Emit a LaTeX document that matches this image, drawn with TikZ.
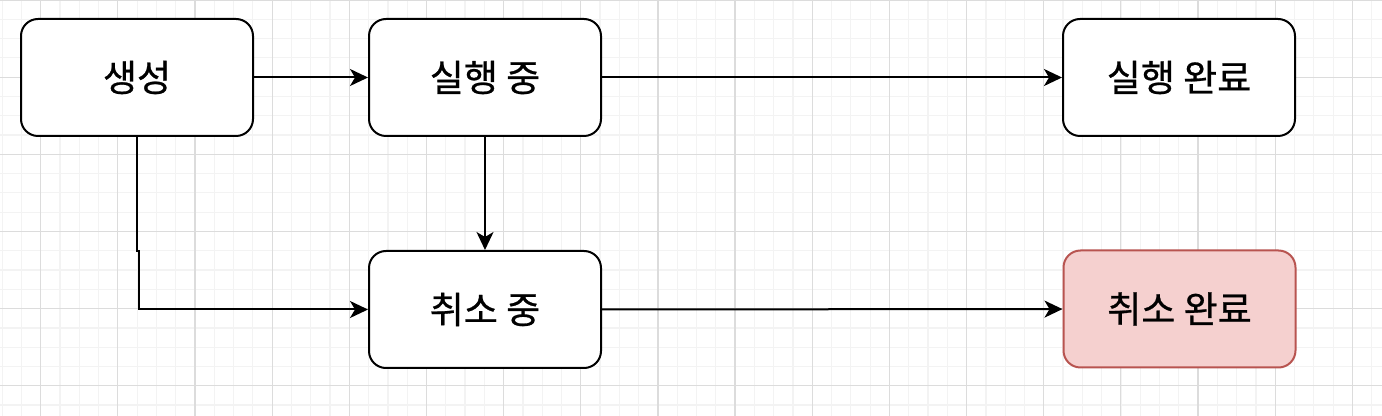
\documentclass[tikz,border=0pt]{standalone}
\usepackage{fontspec}
\setmainfont{Noto Sans CJK KR}
\newfontfamily\labelfont[FakeBold=0.7]{Noto Sans CJK KR}
\usetikzlibrary{arrows.meta}
\definecolor{gridminor}{HTML}{F3F3F3}
\definecolor{gridmajor}{HTML}{DCDCDC}
\definecolor{redfill}{HTML}{F5D0CF}
\definecolor{redline}{HTML}{B85450}
\tikzset{
  box/.style={draw=black, line width=1pt, rounded corners=8.5pt, fill=white,
    minimum width=116pt, minimum height=58.5pt, inner sep=0pt,
    font=\labelfont\fontsize{18.5pt}{22pt}\selectfont},
  redbox/.style={box, draw=redline, fill=redfill},
  conn/.style={draw=black, line width=1pt, -{Stealth[length=9pt,width=8.5pt,inset=2.5pt]}}
}
\begin{document}
\begin{tikzpicture}[x=0.5pt,y=-0.5pt]
\useasboundingbox (0,0) rectangle (1382,416);
\fill[white] (0,0) rectangle (1382,416);
% minor grid
\foreach \i in {0,...,72} {
  \pgfmathsetmacro{\xx}{2.1+19.29*\i}
  \draw[gridminor, line width=0.6pt] (\xx,0) -- (\xx,416);
}
\foreach \i in {0,...,22} {
  \pgfmathsetmacro{\yy}{19.29*\i}
  \draw[gridminor, line width=0.6pt] (0,\yy) -- (1382,\yy);
}
% major grid
\foreach \i in {0,...,18} {
  \pgfmathsetmacro{\xx}{40.7+77.15*\i}
  \draw[gridmajor, line width=0.6pt] (\xx,0) -- (\xx,416);
}
\foreach \i in {0,...,5} {
  \pgfmathsetmacro{\yy}{77.15*\i}
  \draw[gridmajor, line width=0.6pt] (0,\yy) -- (1382,\yy);
}
% nodes
\node[box] (create) at (137,77.5) {생성};
\node[box] (running) at (485,77.5) {실행 중};
\node[box] (rundone) at (1179,77.5) {실행 완료};
\node[box] (canceling) at (485,309.5) {취소 중};
\node[redbox] (canceldone) at (1179.5,309) {취소 완료};
% connectors
\coordinate (j1) at (137,251);
\coordinate (j2) at (139,251);
\draw[conn] (create) -- (running);
\draw[conn] (running) -- (rundone);
\draw[conn] (running) -- (canceling);
\draw[conn] (canceling) -- (canceldone);
\draw[conn] (create.south) -- (j1) -- (j2) |- (canceling.west);
\end{tikzpicture}
\end{document}
